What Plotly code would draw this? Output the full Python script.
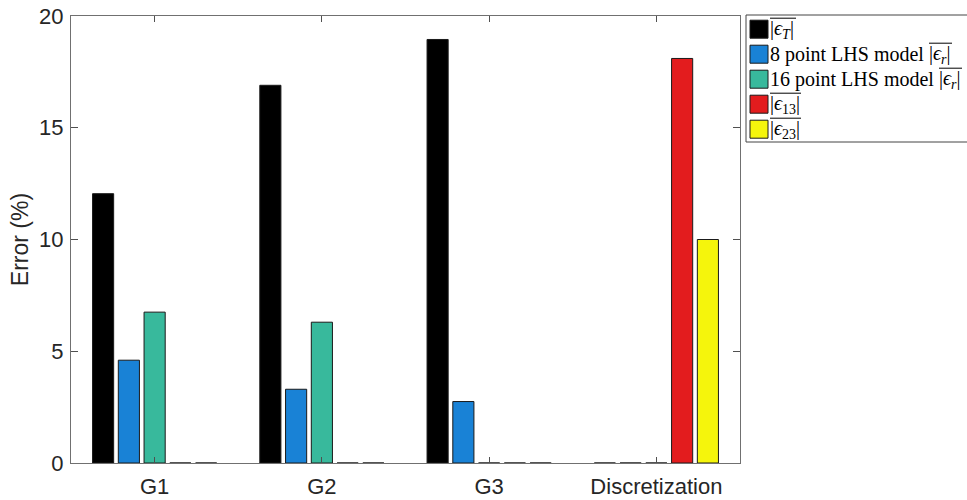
import plotly.graph_objects as go

# Error components per grid level
categories = ["G1", "G2", "G3", "Discretization"]
eps_T = [12.05, 16.9, 18.95, 0.0]
lhs8_eps_r = [4.6, 3.3, 2.75, 0.0]
lhs16_eps_r = [6.75, 6.3, 0.0, 0.0]
eps_13 = [0.0, 0.0, 0.0, 18.1]
eps_23 = [0.0, 0.0, 0.0, 10.0]

y_ticks = [0, 5, 10, 15, 20]

# (values, colour, plain legend prefix, math part of the legend label)
series = [
    (eps_T, "#000000", "", "|<i>ϵ</i><sub><i>T</i></sub>|"),
    (lhs8_eps_r, "#1982d6", "8 point LHS model", "|<i>ϵ</i><sub><i>r</i></sub>|"),
    (lhs16_eps_r, "#38b99c", "16 point LHS model", "|<i>ϵ</i><sub><i>r</i></sub>|"),
    (eps_13, "#e31c1e", "", "|<i>ϵ</i><sub>13</sub>|"),
    (eps_23, "#f5f50c", "", "|<i>ϵ</i><sub>23</sub>|"),
]
# horizontal offset of the math part and the length of its overline, px
math_offsets = [0, 159, 169, 0, 0]
overline_widths = [26, 23, 23, 31, 31]

W, H = 967, 500
ML, MR, MT, MB = 71, 227, 16, 37
PW, PH = W - ML - MR, H - MT - MB


def px_to_paper(px, py):
    return (px - ML) / PW, (H - MB - py) / PH


fig = go.Figure()
xs = list(range(1, len(categories) + 1))
for vals, color, prefix, math in series:
    fig.add_trace(go.Bar(
        x=xs, y=vals, name=(prefix + " " + math).strip(), showlegend=False,
        marker=dict(color=color, line=dict(color="#1a1a1a", width=1)),
    ))

# Legend drawn as a box of swatches with serif labels and overlined magnitudes
shapes = []
annotations = []
legend_font = dict(family="Liberation Serif", size=20, color="#000000")
bx0, by0 = px_to_paper(746, 15)
bx1, by1 = px_to_paper(968, 142)
shapes.append(dict(type="rect", xref="paper", yref="paper", x0=bx0, x1=bx1, y0=by1, y1=by0,
                   line=dict(color="#444444", width=1), fillcolor="white", layer="above"))
row0, step = 29.2, 25.0
text_x = 769
for i, (_, color, prefix, math) in enumerate(series):
    cy = row0 + i * step
    sx0, sy0 = px_to_paper(750, cy - 9)
    sx1, sy1 = px_to_paper(768, cy + 9)
    shapes.append(dict(type="rect", xref="paper", yref="paper", x0=sx0, x1=sx1, y0=sy1, y1=sy0,
                       line=dict(color="#1a1a1a", width=1), fillcolor=color, layer="above"))
    if prefix:
        tx, ty = px_to_paper(text_x, cy)
        annotations.append(dict(xref="paper", yref="paper", x=tx, y=ty, xanchor="left",
                                yanchor="middle", text=prefix, showarrow=False, borderpad=0,
                                font=legend_font))
    mx = text_x + math_offsets[i]
    tx, ty = px_to_paper(mx, cy)
    annotations.append(dict(xref="paper", yref="paper", x=tx, y=ty, xanchor="left",
                            yanchor="middle", text=math, showarrow=False, borderpad=0,
                            font=legend_font))
    ox0, oy = px_to_paper(mx + 1, cy - 11)
    ox1, _ = px_to_paper(mx + 1 + overline_widths[i], cy - 11)
    shapes.append(dict(type="line", xref="paper", yref="paper", x0=ox0, x1=ox1, y0=oy, y1=oy,
                       line=dict(color="#000000", width=1), layer="above"))

axis_common = dict(showline=True, linecolor="#707070", linewidth=1, mirror="ticks",
                   ticks="inside", tickcolor="#505050", showgrid=False, zeroline=False,
                   automargin=False,
                   tickfont=dict(family="Liberation Sans", size=22, color="#262626"))

fig.update_layout(
    width=W, height=H,
    margin=dict(l=ML, r=MR, t=MT, b=MB),
    paper_bgcolor="white", plot_bgcolor="white",
    barmode="group", bargap=0.23, bargroupgap=0.18,
    shapes=shapes, annotations=annotations,
    xaxis=dict(range=[0.5, 4.5], tickvals=xs, ticktext=categories, ticklen=6,
               ticklabelstandoff=4, **axis_common),
    yaxis=dict(range=[0, 20], tickvals=y_ticks, ticklen=7, ticklabelstandoff=2,
               title=dict(text="Error (%)", font=dict(family="Liberation Sans", size=23, color="#262626"),
                          standoff=4),
               **axis_common),
)

fig.write_html("out.html")
